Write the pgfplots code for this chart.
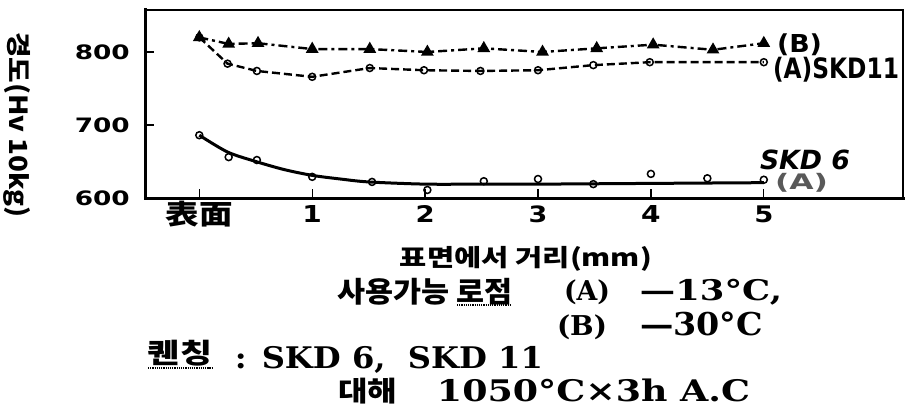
\documentclass[border=0pt]{standalone}
\usepackage{fontspec}
\usepackage{graphicx}
\usepackage{pgfplots}
\pgfplotsset{compat=1.18}
\setmainfont{DejaVu Sans}
\newfontfamily\kr{Noto Sans CJK KR}
\newfontfamily\dv{DejaVu Sans}
\newfontfamily\dvs{DejaVu Serif}
\newcommand\ylab[1]{\resizebox*{55bp}{15bp}{\dv\bfseries #1}}
\newcommand\xd[1]{\scalebox{1.2}[1]{\resizebox*{!}{17bp}{\dv\bfseries #1}}}
\newcommand\fit[3]{\resizebox*{#1bp}{#2bp}{#3}}

\pgfplotstableread{
x y
0 820
0.26 811
0.52 812
1.00 804
1.51 804
2.02 800
2.52 805
3.04 800
3.52 805
4.02 810
4.55 803
5.00 812
}\seriesB

\pgfplotstableread{
x y
0 820
0.25 784
0.51 774
1.00 766
1.51 778
1.99 775
2.49 774
3.00 775
3.49 782
3.99 786
5.00 786
}\seriesAeleven

\pgfplotstableread{
x y
0 686
0.26 656
0.51 652
1.00 629
1.53 622
2.02 611
2.52 623
3.00 626
3.49 619
4.00 633
4.50 627
5.00 625
}\seriesSixPts

\pgfplotstableread{
x y
0 686
0.25 663
0.5 650
0.75 639
1 631
1.25 626
1.5 622
2 619
2.5 619
3 619
4 620
5 621
}\seriesSixCurve

\begin{document}
\begin{tikzpicture}[x=1bp,y=1bp]
\path[use as bounding box] (0,0) rectangle (905,410);
\begin{axis}[
  at={(145bp,212bp)}, anchor=south west,
  scale only axis, width=758bp, height=188bp,
  xmin=-0.481, xmax=6.233, ymin=600, ymax=857.5,
  axis line style={line width=1.8bp},
  tick align=inside, tick pos=left,
  major tick length=9bp,
  tick style={line width=1.3bp, black},
  xtick={0,1,2,3,4,5},
  xticklabels={{\fit{67}{26}{\kr\bfseries 表面}},\xd{1},\xd{2},\xd{3},\xd{4},\xd{5}},
  xticklabel style={anchor=center, inner sep=0pt, yshift=-16bp},
  ytick={600,700,800},
  yticklabels={\ylab{600},\ylab{700},\ylab{800}},
  yticklabel style={anchor=east, inner sep=0pt, xshift=-15bp},
  xlabel={\fit{252}{25}{\kr\bfseries 표면에서 거리(mm)}},
  xlabel style={at={(axis description cs:0.5026,-0.3245)}, anchor=center, inner sep=0pt},
  ylabel={\fit{186}{27}{\kr\bfseries 경도(Hv 10kg)}},
  ylabel style={at={(axis description cs:-0.1689,0.388)}, anchor=center, rotate=180, inner sep=0pt},
  clip=false,
]
\draw[line width=3bp, line cap=rect] (rel axis cs:0,1) -- (rel axis cs:0,0) -- (rel axis cs:1,0);
\addplot[black, line width=2.4bp, dash pattern=on 9bp off 4bp on 3bp off 4bp,
  mark=triangle*, mark size=5bp, mark options={solid, fill=black}]
  table[x=x,y=y] {\seriesB};
\addplot[black, line width=2.4bp, dash pattern=on 8bp off 4bp,
  mark=o, mark size=3.5bp, mark options={solid, fill=white, line width=1.5bp}]
  table[x=x,y=y] {\seriesAeleven};
\addplot[black, line width=3bp, smooth, tension=0.5]
  table[x=x,y=y] {\seriesSixCurve};
\addplot[black, only marks, mark=o, mark size=3.5bp, mark options={fill=white, line width=1.5bp}]
  table[x=x,y=y] {\seriesSixPts};
\end{axis}
% series labels
\node[inner sep=0pt] at (799.5,365) {\fit{45}{22}{\dv\bfseries (B)}};
\node[inner sep=0pt] at (836,340.5) {\fit{126}{25}{\dv\bfseries (A)SKD11}};
\node[inner sep=0pt] at (805,250.5) {\fit{90}{20}{\dv\bfseries\itshape SKD 6}};
\node[inner sep=0pt, text=black!65] at (801.5,227) {\fit{53}{19}{\dv\bfseries (A)}};
% notes below
\node[inner sep=0pt] at (425,118) {\fit{175}{27}{\kr\bfseries 사용가능 로점}};
\draw[densely dotted, line width=1.2bp] (457,105) -- (510,105);
\node[inner sep=0pt] at (587,118) {\fit{46}{25}{\dvs\bfseries (A)}};
\node[inner sep=0pt] at (711,117.5) {\fit{142}{26}{\dvs\bfseries —13°C,}};
\node[inner sep=0pt] at (582,83) {\fit{50}{25}{\dvs\bfseries (B)}};
\node[inner sep=0pt] at (701.5,86) {\fit{123}{24}{\dvs\bfseries —30°C}};
\node[inner sep=0pt] at (180,57) {\fit{64}{26}{\kr\bfseries 퀜칭}};
\draw[densely dotted, line width=1.2bp] (148,42) -- (212,42);
\node[inner sep=0pt] at (389,50) {\fit{308}{27}{\dvs\bfseries : SKD 6,\ \ SKD 11}};
\node[inner sep=0pt] at (367.5,19) {\fit{59}{26}{\kr\bfseries 대해}};
\node[inner sep=0pt] at (593.5,19.5) {\fit{313}{23}{\dvs\bfseries 1050°C×3h\ A.C}};
\end{tikzpicture}
\end{document}
